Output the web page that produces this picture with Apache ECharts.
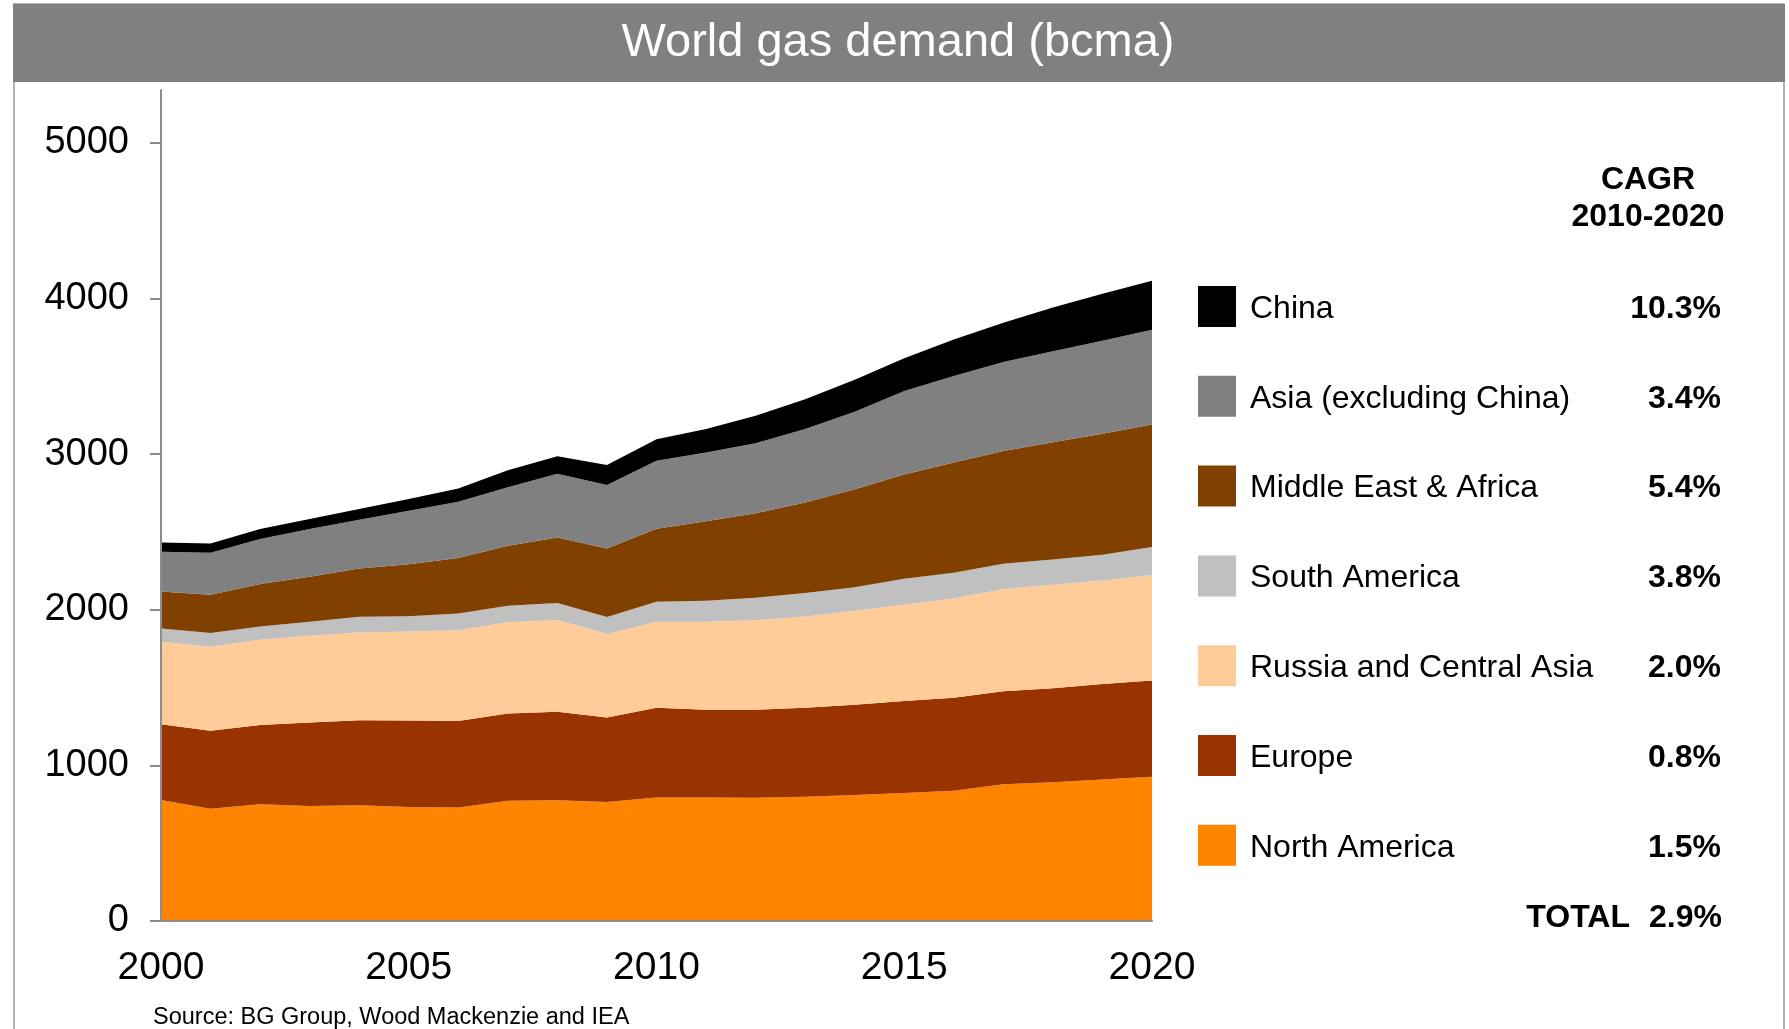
<!DOCTYPE html>
<html>
<head>
<meta charset="utf-8">
<title>World gas demand (bcma)</title>
<script src="https://cdn.jsdelivr.net/npm/echarts@6/dist/echarts.min.js"></script>
<style>
  html, body { margin: 0; padding: 0; background: #fff; }
  #chart { width: 1789px; height: 1029px; }
</style>
</head>
<body>
<div id="chart"></div>
<script>
const years = ['2000','2001','2002','2003','2004','2005','2006','2007','2008','2009','2010',
               '2011','2012','2013','2014','2015','2016','2017','2018','2019','2020'];
const yTicks = [0, 1000, 2000, 3000, 4000, 5000];

const northAmerica      = [778,722,750,739,744,733,729,772,776,765,794,794,792,799,810,823,837,878,891,910,927];
const europe            = [487,500,510,536,546,555,557,562,569,542,576,564,566,571,580,590,598,599,605,613,618];
const russiaCentralAsia = [529,540,547,558,564,572,583,586,589,537,553,565,574,586,604,619,638,656,665,665,679];
const southAmerica      = [86,88,86,90,101,99,107,106,110,110,128,135,146,151,151,168,165,162,162,166,179];
const middleEastAfrica  = [238,246,272,289,310,334,356,386,420,440,469,511,543,582,630,670,709,726,753,777,788];
const asiaExChina       = [255,270,289,307,313,343,362,376,410,408,438,441,449,472,498,536,555,571,585,597,608];
const china             = [60,60,65,64,69,75,86,109,113,129,137,151,176,192,205,211,234,253,281,302,315];

const seriesNames = ['North America','Europe','Russia and Central Asia','South America',
                     'Middle East & Africa','Asia (excluding China)','China'];
const seriesColors = ['#FF8500','#993300','#FFCC99','#C0C0C0','#804000','#808080','#000000'];
const seriesData = [northAmerica, europe, russiaCentralAsia, southAmerica, middleEastAfrica, asiaExChina, china];

const legendOrder = ['China','Asia (excluding China)','Middle East & Africa','South America',
                     'Russia and Central Asia','Europe','North America'];
const cagrValues = ['10.3%','3.4%','5.4%','3.8%','2.0%','0.8%','1.5%'];
const cagrTotal = '2.9%';
const titleText = 'World gas demand (bcma)';
const cagrHeader = 'CAGR\n2010-2020';
const sourceText = 'Source: BG Group, Wood Mackenzie and IEA';

const FONT = '"Liberation Sans", Arial, sans-serif';

const chart = echarts.init(document.getElementById('chart'), null, { renderer: 'canvas' });

const series = seriesNames.map((name, i) => ({
  name: name,
  type: 'line',
  stack: 'total',
  data: seriesData[i],
  symbol: 'none',
  showSymbol: false,
  smooth: false,
  color: seriesColors[i],
  itemStyle: { color: seriesColors[i] },
  lineStyle: { width: 0, color: seriesColors[i] },
  areaStyle: { color: seriesColors[i], opacity: 1 },
  emphasis: { disabled: true },
  z: 2
}));

const option = {
  animation: false,
  backgroundColor: '#ffffff',
  textStyle: { fontFamily: FONT },
  grid: { left: 161, right: 637, top: 90, bottom: 108, containLabel: false },
  xAxis: {
    type: 'category',
    data: years,
    boundaryGap: false,
    axisLine: { show: true, lineStyle: { color: '#8c8c8c', width: 2 } },
    axisTick: { show: false },
    splitLine: { show: false },
    axisLabel: { interval: 4, fontSize: 39, color: '#000', margin: 28, fontFamily: FONT },
    z: 5
  },
  yAxis: {
    type: 'value',
    min: 0,
    max: 5340,
    interval: 1000,
    splitLine: { show: false },
    axisLine: { show: true, lineStyle: { color: '#8c8c8c', width: 2 } },
    axisTick: { show: true, length: 11, lineStyle: { color: '#8c8c8c', width: 2 }, customValues: yTicks },
    axisLabel: {
      customValues: yTicks, fontSize: 38, color: '#000', margin: 32, fontFamily: FONT,
      formatter: function (v) { return String(v); }
    },
    z: 5
  },
  legend: {
    data: legendOrder,
    orient: 'vertical',
    left: 1198,
    top: 286,
    padding: 0,
    itemWidth: 38,
    itemHeight: 41,
    itemGap: 48.8,
    icon: 'rect',
    selectedMode: false,
    itemStyle: { borderWidth: 0 },
    formatter: function (name) {
      const idx = legendOrder.indexOf(name);
      return '{n|' + name + '}{p|' + cagrValues[idx] + '}';
    },
    textStyle: {
      color: '#000',
      fontSize: 32,
      fontFamily: FONT,
      rich: {
        n: { width: 371, padding: [5, 0, 0, 9], fontSize: 32, color: '#000', fontFamily: FONT },
        p: { width: 100, align: 'right', padding: [5, 0, 0, 0], fontSize: 32, fontWeight: 'bold', color: '#000', fontFamily: FONT }
      }
    }
  },
  graphic: {
    elements: [
      {
        type: 'rect', z: 0, silent: true,
        shape: { x: 14, y: 4, width: 1770, height: 1100 },
        style: { fill: 'none', stroke: '#999999', lineWidth: 1.5 }
      },
      {
        type: 'rect', z: 1, silent: true,
        shape: { x: 13, y: 4, width: 1772, height: 78 },
        style: { fill: '#808080' }
      },
      {
        type: 'text', z: 2, silent: true,
        x: 898, y: 43,
        style: { text: titleText, fill: '#ffffff', font: '47px ' + FONT,
                 align: 'center', verticalAlign: 'middle', textAlign: 'center', textVerticalAlign: 'middle' }
      },
      {
        type: 'text', z: 2, silent: true,
        x: 1648, y: 199,
        style: { text: cagrHeader, fill: '#000', font: 'bold 32px ' + FONT, lineHeight: 37,
                 align: 'center', verticalAlign: 'middle', textAlign: 'center', textVerticalAlign: 'middle' }
      },
      {
        type: 'text', z: 2, silent: true,
        x: 1630, y: 918,
        style: { text: 'TOTAL', fill: '#000', font: 'bold 32px ' + FONT,
                 align: 'right', verticalAlign: 'middle', textAlign: 'right', textVerticalAlign: 'middle' }
      },
      {
        type: 'text', z: 2, silent: true,
        x: 1722, y: 918,
        style: { text: cagrTotal, fill: '#000', font: 'bold 32px ' + FONT,
                 align: 'right', verticalAlign: 'middle', textAlign: 'right', textVerticalAlign: 'middle' }
      },
      {
        type: 'text', z: 2, silent: true,
        x: 153, y: 1018,
        style: { text: sourceText, fill: '#000', font: '23.5px ' + FONT,
                 align: 'left', verticalAlign: 'middle', textAlign: 'left', textVerticalAlign: 'middle' }
      }
    ]
  },
  series: series
};

chart.setOption(option);
</script>
</body>
</html>
